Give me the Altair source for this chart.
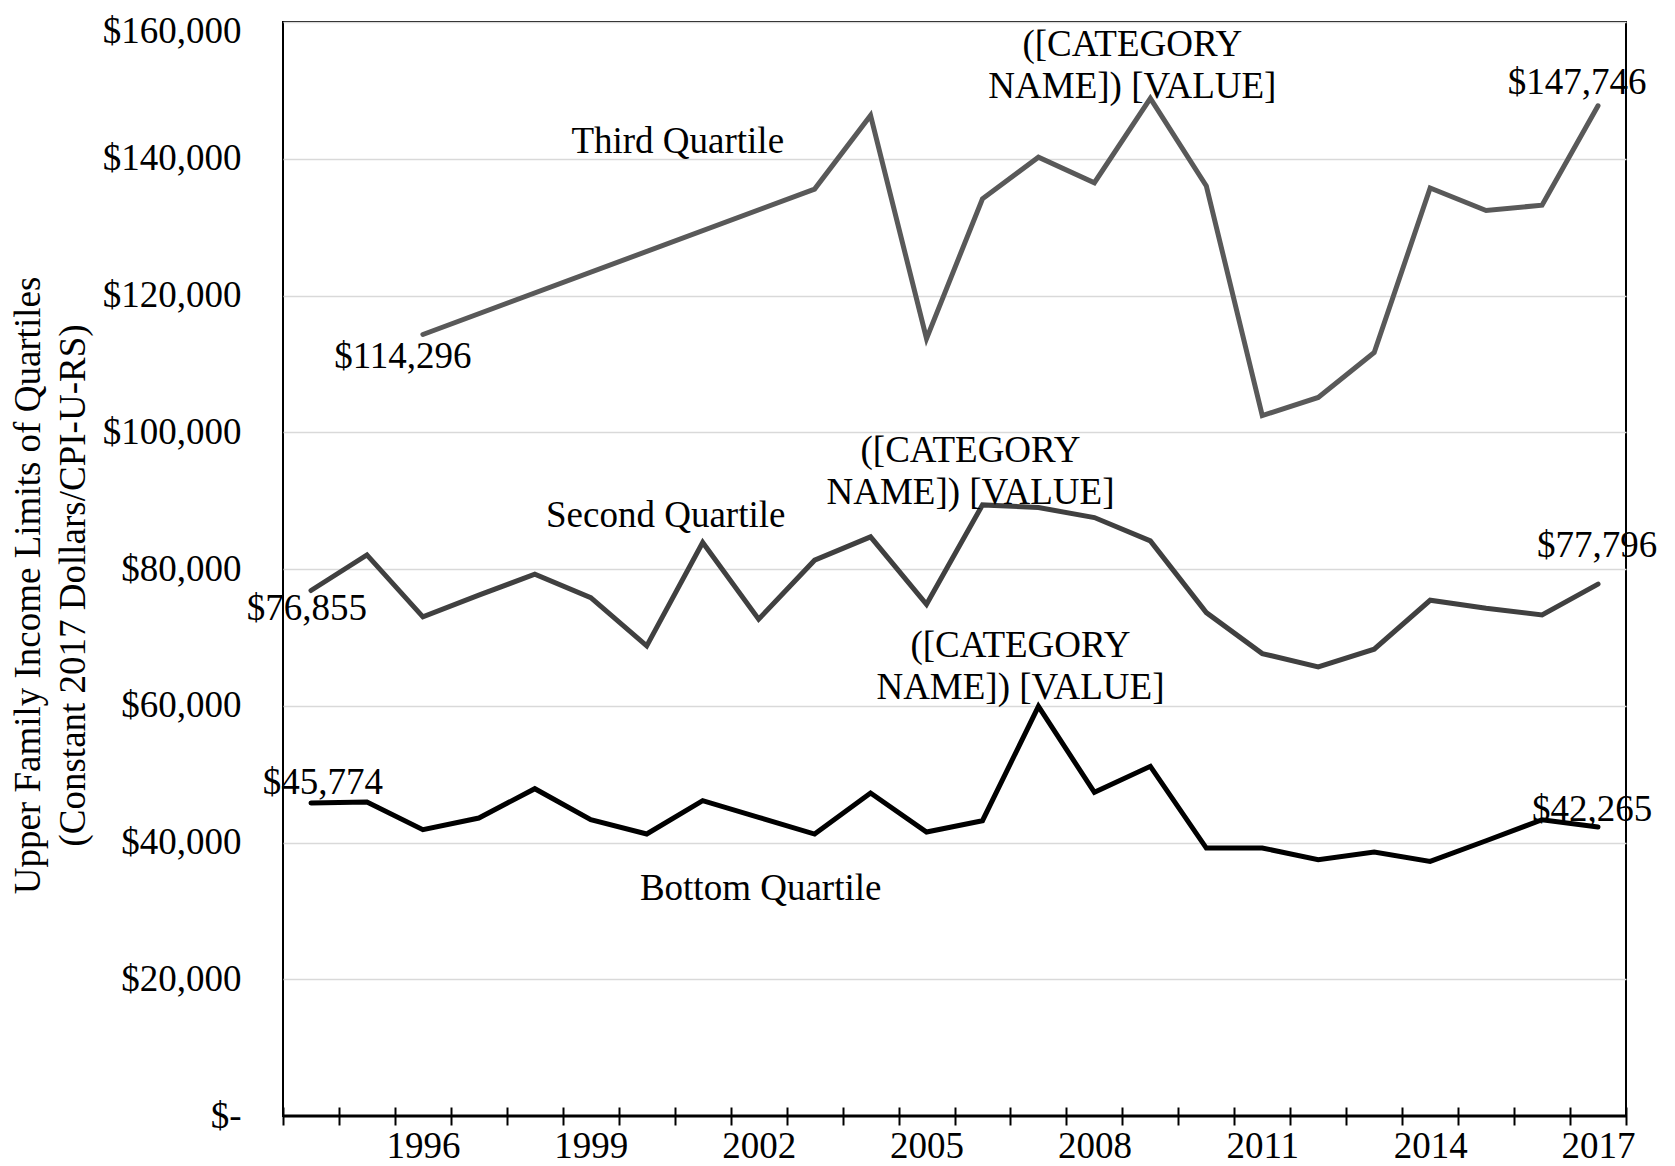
import altair as alt
import pandas as pd

# ---- data ----
years = list(range(1994, 2018))

bottom_quartile = [45774, 45920, 41870, 43580, 47870, 43330, 41240, 46110, 43680, 41240,
                   47240, 41530, 43190, 59910, 47330, 51140, 39190, 39190, 37480, 38600,
                   37240, 40260, 43330, 42265]

second_quartile = [76855, 82065, 73000, 76170, 79235, 75820, 68755, 83870, 72655, 81285,
                   84700, 74845, 89375, 88985, 87525, 84110, 73625, 67630, 65685, 68270,
                   75430, 74260, 73290, 77796]

third_quartile = [None, None, 114296, None, None, None, None, None, None, 135560,
                  146335, 113680, 134150, 140235, 136495, 148835, 136025, 102435, 105095, 111655,
                  135715, 132435, 133215, 147746]

series_names = ["Third Quartile", "Second Quartile", "Bottom Quartile"]
series_colors = ["#595959", "#404040", "#000000"]

y_ticks = [0, 20000, 40000, 60000, 80000, 100000, 120000, 140000, 160000]

# annotations: text, anchor year, anchor value, pixel offsets
annotations = [
    ("$114,296", 1996, 114296, -20, 22),
    ("([CATEGORY\nNAME]) [VALUE]", 2009, 148835, -18, -53),
    ("$147,746", 2017, 147746, -21, -23),
    ("([CATEGORY\nNAME]) [VALUE]", 2006, 89375, -12, -54),
    ("$76,855", 1994, 76855, -4, 18),
    ("$77,796", 2017, 77796, -1, -38),
    ("([CATEGORY\nNAME]) [VALUE]", 2007, 59910, -18, -60),
    ("$45,774", 1994, 45774, 12, -20),
    ("$42,265", 2017, 42265, -6, -17),
    ("Third Quartile", 2000, 142450, 31, 0),
    ("Second Quartile", 2000, 87820, 19, 0),
    ("Bottom Quartile", 2002, 33200, 2, 0),
]

# ---- build long table ----
rows = []
for name, vals in zip(series_names, [third_quartile, second_quartile, bottom_quartile]):
    for yr, v in zip(years, vals):
        if v is not None:
            rows.append({"year": yr, "value": v, "series": name})
df = pd.DataFrame(rows)

FONT = "Liberation Serif"
FS = 37

x_enc = alt.X(
    "year:O",
    scale=alt.Scale(type="band", domain=years, paddingInner=0, paddingOuter=0),
    axis=alt.Axis(
        title=None,
        labelExpr="(datum.value - 1996) % 3 == 0 ? datum.label : ''",
        labelAngle=0,
        labelOverlap=False,
        tickBand="extent",
        ticks=True,
        tickSize=18,
        tickWidth=2,
        tickColor="black",
        domain=False,
        offset=-9,
        labelPadding=3,
        grid=False,
        labelFont=FONT,
        labelFontSize=FS,
        labelColor="black",
    ),
)

y_enc = alt.Y(
    "value:Q",
    scale=alt.Scale(domain=[0, 160000], nice=False, zero=True),
    axis=alt.Axis(
        values=y_ticks,
        labelExpr="datum.value == 0 ? '$-\u00a0\u00a0' : '$' + format(datum.value, ',')",
        labelOffset={"condition": {"test": "datum.value == 160000", "value": 9}, "value": 0},
        ticks=False,
        domain=False,
        grid=True,
        gridColor="#d9d9d9",
        gridWidth=1.3,
        labelPadding=42,
        labelFont=FONT,
        labelFontSize=FS,
        labelColor="black",
        title=["Upper Family Income Limits of Quartiles", "(Constant 2017 Dollars/CPI-U-RS)"],
        titleFont=FONT,
        titleFontSize=FS,
        titleFontWeight="normal",
        titleColor="black",
        titleLineHeight=45,
        titlePadding=10,
        titleY=563,
    ),
)

lines = alt.Chart(df).mark_line(strokeWidth=5, strokeCap="round").encode(
    x=x_enc,
    y=y_enc,
    color=alt.Color("series:N",
                    scale=alt.Scale(domain=series_names, range=series_colors),
                    legend=None),
    detail="series:N",
)

base_rule = alt.Chart(pd.DataFrame({"value": [0]})).mark_rule(
    color="black", strokeWidth=3
).encode(y=alt.Y("value:Q"))

layers = [lines, base_rule]
for text, yr, val, dx, dy in annotations:
    t = alt.Chart(pd.DataFrame({"year": [yr], "value": [val], "label": [text]})).mark_text(
        font=FONT, fontSize=FS, color="black", align="center", baseline="middle",
        dx=dx, dy=dy, lineBreak="\n", lineHeight=42,
    ).encode(x=alt.X("year:O"), y=alt.Y("value:Q"), text="label:N")
    layers.append(t)

chart = alt.layer(*layers).properties(
    width=1343,
    height=1094,
    autosize=alt.AutoSizeParams(type="none"),
    padding={"left": 275, "top": 14, "right": 41, "bottom": 60},
).configure_view(
    stroke="black", strokeWidth=2
)

chart.save("out.html", embed_options={"renderer": "svg", "actions": False})
